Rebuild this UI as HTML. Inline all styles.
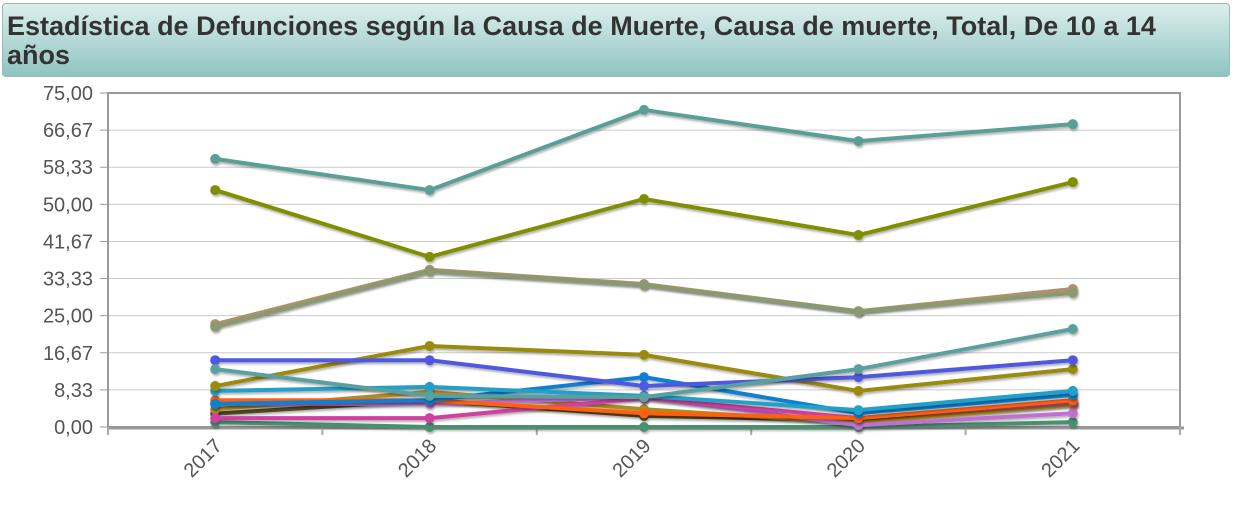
<!DOCTYPE html>
<html><head><meta charset="utf-8"><style>
body{margin:0;width:1238px;height:510px;background:#fff;font-family:"Liberation Sans",sans-serif;overflow:hidden}
#title{position:absolute;left:2px;top:3px;width:1228px;height:74px;border:1px solid #9bb;border-radius:4px;background:linear-gradient(#dcefed,#8fc4c0);box-sizing:border-box;padding:8px 4px;font-weight:bold;font-size:27px;line-height:29px;color:#333}
svg{position:absolute;left:0;top:0}
</style></head><body>
<div id="title">Estadística de Defunciones según la Causa de Muerte, Causa de muerte, Total, De 10 a 14 años</div>
<svg id="chart" width="1238" height="510"></svg>
<script>
const categories=["2017","2018","2019","2020","2021"];
const yTicks=["0,00","8,33","16,67","25,00","33,33","41,67","50,00","58,33","66,67","75,00"];
const colors=["#5a9e98","#7f8f00","#b0906a","#8a9a70","#5aa0a0","#5058e0","#9a8a10","#20a0c8","#0a80d0","#ff6010","#d040a0","#c070d0","#b08a20","#4a9070","#554422"];
const s1=[60.2,53.2,71.2,64.2,68.0];
const s2=[53.2,38.2,51.2,43.1,55.0];
const s3=[23.1,35.3,32.1,26.0,31.0];
const s4=[22.5,35.0,31.9,26.0,30.1];
const s5=[13.0,7.0,6.7,13.0,22.0];
const s6=[15.0,15.0,9.2,11.2,15.0];
const s7=[9.2,18.2,16.2,8.1,13.0];
const s8=[8.1,9.0,7.0,3.8,8.1];
const s9=[5.2,6.0,11.2,3.1,7.2];
const s10=[6.0,6.0,3.1,2.0,6.0];
const s11=[2.0,2.0,6.5,2.0,5.6];
const s12=[5.2,5.2,6.7,0.4,3.1];
const s13=[4.0,7.9,4.0,0.9,5.0];
const s14=[1.1,0.0,0.0,0.0,1.1];
const s15=[3.0,6.0,2.5,1.5,5.2];
const series=[s15,s3,s4,s14,s13,s12,s11,s10,s9,s8,s7,s6,s5,s2,s1];
const seriesColors=[colors[14],colors[2],colors[3],colors[13],colors[12],colors[11],colors[10],colors[9],colors[8],colors[7],colors[6],colors[5],colors[4],colors[1],colors[0]];
const NS="http://www.w3.org/2000/svg";
const svg=document.getElementById('chart');
const L=108,R=1180,T=93,B=427,yMax=75;
const y=v=>B-(v/yMax)*(B-T);
const step=(R-L)/5;
const x=i=>L+step*(i+0.5);
function mk(t,a,p){const e=document.createElementNS(NS,t);for(const k in a)e.setAttribute(k,a[k]);(p||svg).appendChild(e);return e;}
const defs=mk('defs',{});
const f=mk('filter',{id:'sh',x:'-5%',y:'-20%',width:'110%',height:'140%'},defs);
mk('feDropShadow',{dx:'1',dy:'2',stdDeviation:'1',"flood-opacity":'0.3'},f);
yTicks.forEach((t,i)=>{const v=i*yMax/9;const g=mk('line',{x1:L,x2:R,y1:y(v),y2:y(v),stroke:'#ccc','stroke-width':1});


const tk=mk('line',{x1:L-8,x2:L,y1:y(v),y2:y(v),stroke:'#999'});


const tx=mk('text',{x:L-15,y:y(v)+7,'text-anchor':'end','font-size':20,fill:'#555'});tx.textContent=t;

});
const fr=mk('rect',{x:L,y:T,width:R-L,height:B-T,fill:'none',stroke:'#999','stroke-width':2});


const ax=mk('line',{x1:L,x2:R+4,y1:B+1,y2:B+1,stroke:'#999','stroke-width':3});


for(let i=0;i<=5;i++){const t=mk('line',{x1:L+step*i,x2:L+step*i,y1:B,y2:B+8,stroke:'#aaa','stroke-width':2});

}
categories.forEach((c,i)=>{const t=mk('text',{x:x(i)+8,y:B+20,'text-anchor':'end','font-size':20,fill:'#555',transform:`rotate(-45 ${x(i)+8} ${B+20})`});t.textContent=c;

});
series.forEach((s,si)=>{const g=mk('g',{filter:'url(#sh)'});


mk('polyline',{points:s.map((v,i)=>x(i)+','+y(v)).join(' '),fill:'none',stroke:seriesColors[si],'stroke-width':4,'stroke-linejoin':'round'},g);
s.forEach((v,i)=>{const p=mk('circle',{cx:x(i),cy:y(v),r:5,fill:seriesColors[si]},g);

});});
</script>
</body></html>
